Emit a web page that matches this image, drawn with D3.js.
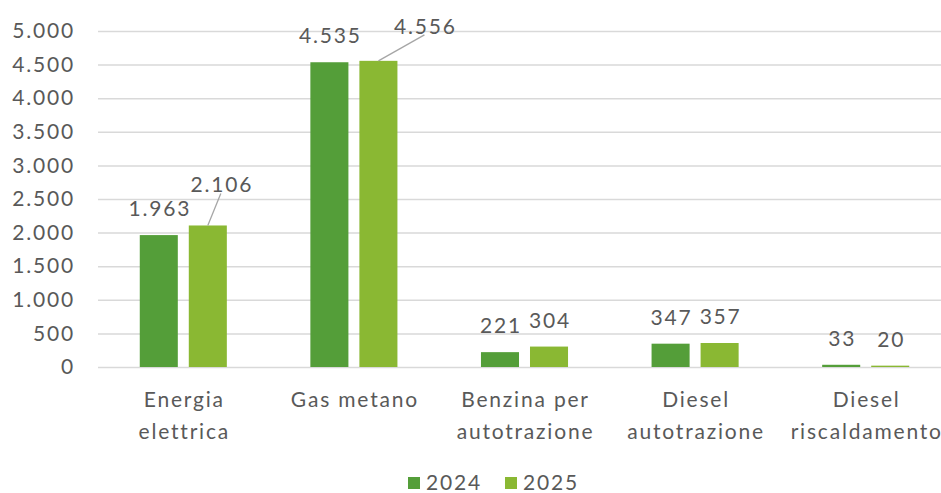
<!DOCTYPE html>
<html>
<head>
<meta charset="utf-8">
<script src="https://cdn.jsdelivr.net/npm/d3@7"></script>
<style>
  body { margin: 0; background: #fff; }
  text { font-family: Lato, "Noto Sans", sans-serif; fill: #595959; letter-spacing: 1.8px; }
</style>
</head>
<body>
<div id="chart"></div>
<script>
// data
var categories = [["Energia", "elettrica"], ["Gas metano"], ["Benzina per", "autotrazione"], ["Diesel", "autotrazione"], ["Diesel", "riscaldamento"]];
var series = ["2024", "2025"];
var values2024 = [1963, 4535, 221, 347, 33];
var values2025 = [2106, 4556, 304, 357, 20];
var yTicks = [0, 500, 1000, 1500, 2000, 2500, 3000, 3500, 4000, 4500, 5000];
var colors = { "2024": "#549E39", "2025": "#8AB833" };

var width = 941, height = 493;
var margin = { top: 31, left: 98, plotRight: 951, bottom: 367 };

var svg = d3.select("#chart").append("svg")
    .attr("width", width)
    .attr("height", height);

var fmt = function(v) { return d3.format(",")(v).replace(/,/g, "."); };

var catIdx = d3.range(categories.length);
var x0 = d3.scaleBand()
    .domain(catIdx)
    .range([margin.left, margin.plotRight]);
var x1 = d3.scaleBand()
    .domain(series)
    .range([0, x0.bandwidth()])
    .paddingInner(0.224)
    .paddingOuter(0.852);
var y = d3.scaleLinear()
    .domain([0, 5000])
    .range([margin.bottom, margin.top]);

// gridlines
svg.append("g")
    .selectAll("line")
    .data(yTicks).enter()
    .append("line")
        .attr("x1", margin.left)
        .attr("x2", width)
        .attr("y1", function(d) { return y(d) + 0.5; })
        .attr("y2", function(d) { return y(d) + 0.5; })
        .attr("stroke", "#d9d9d9")
        .attr("stroke-width", 1.5);

// y axis labels
var yAxis = svg.append("g")
    .attr("transform", "translate(75 0)")
    .call(d3.axisLeft(y).tickValues(yTicks).tickSize(0).tickPadding(0).tickFormat(fmt));
yAxis.select(".domain").remove();
yAxis.selectAll("text")
    .attr("font-size", "21px")
    .attr("fill", "#595959")
    .attr("font-family", "Lato, 'Noto Sans', sans-serif");

// bars
var rows = catIdx.map(function(i) {
    return { i: i, vals: [{ s: "2024", v: values2024[i] }, { s: "2025", v: values2025[i] }] };
});

var groups = svg.selectAll(".grp")
    .data(rows).enter()
    .append("g")
        .attr("class", "grp")
        .attr("transform", function(d) { return "translate(" + x0(d.i) + " 0)"; });

groups.selectAll("rect")
    .data(function(d) { return d.vals; }).enter()
    .append("rect")
        .attr("x", function(d) { return x1(d.s); })
        .attr("y", function(d) { return y(d.v); })
        .attr("width", x1.bandwidth())
        .attr("height", function(d) { return y(0) - y(d.v); })
        .attr("fill", function(d) { return colors[d.s]; });

// labels (some are moved away from the bar with a leader line)
var labelNudge = { "0-2025": [13, -14], "1-2025": [46, -8] };

groups.each(function(g) {
    var sel = d3.select(this);
    g.vals.forEach(function(d) {
        var cx = x1(d.s) + x1.bandwidth() / 2;
        var top = y(d.v);
        var n = labelNudge[g.i + "-" + d.s] || [0, 0];
        if (labelNudge[g.i + "-" + d.s]) {
            sel.append("line")
                .attr("x1", cx)
                .attr("y1", top)
                .attr("x2", cx + n[0])
                .attr("y2", top - 18 + n[1])
                .attr("stroke", "#a6a6a6")
                .attr("stroke-width", 1.3);
        }
        sel.append("text")
            .attr("x", cx + n[0] + 1)
            .attr("y", top - 19 + n[1])
            .attr("text-anchor", "middle")
            .attr("font-size", "21px")
            .attr("fill", "#404040")
            .text(fmt(d.v));
    });
});

// x axis category labels
var xl = svg.append("g");
xl.selectAll("text")
    .data(rows).enter()
    .append("text")
        .attr("x", function(d) { return x0(d.i) + x0.bandwidth() / 2 + 1; })
        .attr("y", 407)
        .attr("text-anchor", "middle")
        .attr("font-size", "21px")
        .each(function(d) {
            var t = d3.select(this);
            categories[d.i].forEach(function(line, k) {
                t.append("tspan")
                    .attr("x", x0(d.i) + x0.bandwidth() / 2 + 1)
                    .attr("dy", k === 0 ? 0 : 32)
                    .text(line);
            });
        });

// legend
var legend = svg.append("g").attr("transform", "translate(408 0)");
series.forEach(function(s, i) {
    var lg = legend.append("g").attr("transform", "translate(" + (i * 97) + " 0)");
    lg.append("rect")
        .attr("x", 0)
        .attr("y", 477)
        .attr("width", 12)
        .attr("height", 12)
        .attr("fill", colors[s]);
    lg.append("text")
        .attr("x", 18)
        .attr("y", 490)
        .attr("font-size", "21px")
        .text(s);
});
</script>
</body>
</html>
